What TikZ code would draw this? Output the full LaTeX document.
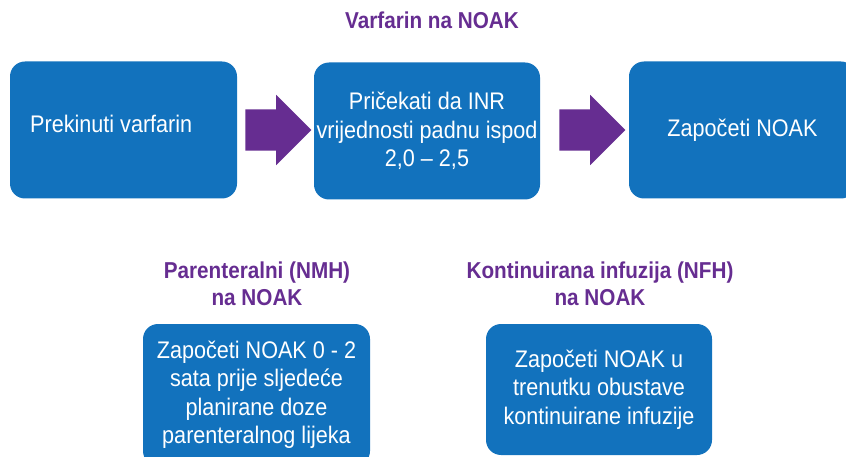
\documentclass[tikz,border=0pt]{standalone}
\usepackage{fontspec}
\setmainfont{Liberation Sans}[FakeStretch=0.9]
\usetikzlibrary{shapes.arrows}
\definecolor{boxblue}{RGB}{18,114,189}
\definecolor{headpurple}{RGB}{102,45,145}
\begin{document}
\begin{tikzpicture}[x=1pt,y=-1pt,
	box/.style={fill=boxblue,rounded corners=15pt,text=white,align=center,inner sep=0pt,
		font=\fontsize{24}{28.5}\selectfont},
	head/.style={text=headpurple,align=center,font=\bfseries\fontsize{23}{27}\selectfont},
	bigarrow/.style={single arrow,fill=headpurple,inner sep=0pt,minimum height=66pt,
		text height=20.5pt,text depth=20.5pt,single arrow head extend=14.5pt}]
	\useasboundingbox (0,0) rectangle (846,457);
	\clip (0,0) rectangle (846,457);
	\node[head] (title) at (432,20) {Varfarin na NOAK};
	\node[box,minimum width=227pt,minimum height=137pt] (prekid) at (123.5,130) {};
	\node[anchor=west,text=white,inner sep=0pt,font=\fontsize{24}{28.5}\selectfont] (prekidtxt) at (30,124) {Prekinuti varfarin};
	\node[box,minimum width=226pt,minimum height=137pt] (inr) at (427,131) {Pričekati da INR\\vrijednosti padnu ispod\\2,0 -- 2,5};
	\node[box,minimum width=227pt,minimum height=137pt] (start) at (742.5,130) {Započeti NOAK};
	\node[bigarrow] (strelica1) at (268,130) {};
	\node[bigarrow] (strelica2) at (582,130) {};
	\node[head] (nmh) at (257,284) {Parenteralni (NMH)\\na NOAK};
	\node[head] (nfh) at (600,284) {Kontinuirana infuzija (NFH)\\na NOAK};
	\node[box,minimum width=227pt,minimum height=142pt] (nmhbox) at (256.5,395) {Započeti NOAK 0 - 2\\sata prije sljedeće\\planirane doze\\parenteralnog lijeka};
	\node[box,minimum width=226pt,minimum height=131pt] (nfhbox) at (599,389.5) {Započeti NOAK u\\trenutku obustave\\kontinuirane infuzije};
\end{tikzpicture}
\end{document}
